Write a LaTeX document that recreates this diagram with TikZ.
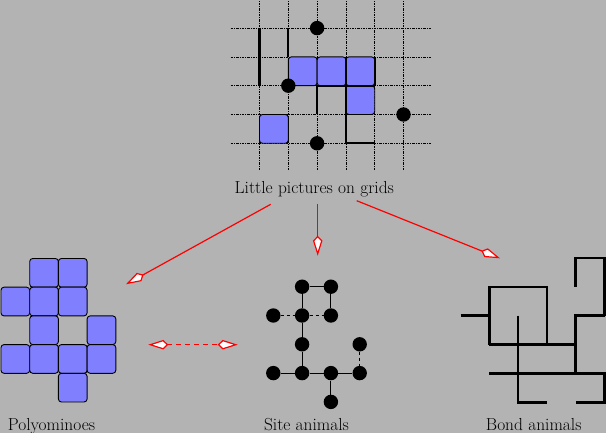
\documentclass[tikz,border=0pt]{standalone}
\usetikzlibrary{arrows.meta}
\definecolor{bggray}{RGB}{179,179,179}
\definecolor{polyblue}{RGB}{128,128,255}
\tikzset{
  gridline/.style={line width=0.7pt, dash pattern=on 2.5pt off 1.2pt on 0.6pt off 1.2pt},
  cell/.style={draw=black, line width=0.9pt, fill=polyblue, rounded corners=3pt},
  thickedge/.style={line width=2.2pt},
  bondedge/.style={line width=2.6pt, line join=miter},
  dot/.style={circle, fill=black, inner sep=0pt, minimum size=14.4pt},
  siteedge/.style={line width=1pt},
  sitedashed/.style={line width=1pt, dash pattern=on 3pt off 3pt},
  caption/.style={font=\fontsize{17.4}{21}\selectfont, anchor=base, inner sep=0pt},
  redarrow/.style={red, line width=1.2pt, -{Kite[length=20pt,width=9.5pt,inset=5pt,fill=white]}},
}
\begin{document}
\begin{tikzpicture}[x=1pt,y=-1pt]
\fill[bggray] (0,0) rectangle (606,433);
\useasboundingbox (0,0) rectangle (606,433);

% ---------- top grid ----------
\begin{scope}[shift={(259.5pt,-143.3pt)}, x=28.8pt, y=28.8pt]
  \foreach \c in {0,...,5} \draw[gridline] (\c,-0.93) -- (\c,4.97);
  \foreach \r in {0,...,4} \draw[gridline] (-1,\r) -- (6,\r);
  \foreach \p/\q in {1/2,2/2,3/2,3/1,0/0}
    \draw[cell] (\p,\q) rectangle ++(1,1);
  \draw[thickedge] (0,4) -- (0,2);
  \draw[thickedge] (1,4) -- (1,3);
  \draw[thickedge] (3,3) -- (3,0) -- (4,0);
  \draw[thickedge] (4,3) -- (4,2);
  \draw[thickedge] (2,1) -- (2,2) -- (4,2);
  \node[dot] (g1) at (2,4) {};
  \node[dot] (g2) at (1,2) {};
  \node[dot] (g3) at (5,1) {};
  \node[dot] (g4) at (2,0) {};
\end{scope}

\node[caption] (title) at (314.3,193.3) {Little pictures on grids};

% ---------- polyominoes ----------
\begin{scope}[shift={(1pt,-402pt)}, x=28.7pt, y=28.7pt]
  \foreach \p/\q in {1/4,2/4,0/3,1/3,2/3,1/2,3/2,0/1,1/1,2/1,3/1,2/0}
    \draw[cell] (\p,\q) rectangle ++(1,1);
\end{scope}

% ---------- site animals ----------
\begin{scope}[shift={(273.3pt,-401.9pt)}, x=28.8pt, y=28.8pt]
  \foreach \p/\q in {1/4,2/4,0/3,1/3,2/3,1/2,3/2,0/1,1/1,2/1,3/1,2/0}
    \node[dot] (s\p\q) at (\p,\q) {};
  \draw[siteedge] (s14) -- (s24);
  \draw[siteedge] (s14) -- (s13);
  \draw[siteedge] (s24) -- (s23);
  \draw[siteedge] (s13) -- (s12);
  \draw[siteedge] (s12) -- (s11);
  \draw[siteedge] (s01) -- (s11);
  \draw[siteedge] (s11) -- (s21);
  \draw[siteedge] (s21) -- (s31);
  \draw[siteedge] (s21) -- (s20);
  \draw[sitedashed] (s03) -- (s13);
  \draw[sitedashed] (s13) -- (s23);
  \draw[sitedashed] (s32) -- (s31);
\end{scope}

% ---------- bond animals ----------
\begin{scope}[shift={(460.5pt,-402.3pt)}, x=28.8pt, y=28.85pt]
  \draw[bondedge] (4,4) -- (4,5) -- (5,5) -- (5,3);
  \draw[bondedge] (1,2) -- (1,4) -- (3,4) -- (3,2);
  \draw[bondedge] (0,3) -- (1,3);
  \draw[bondedge] (2,3) -- (2,0) -- (3,0);
  \draw[bondedge] (1,2) -- (4,2);
  \draw[bondedge] (5,3) -- (4,3) -- (4,1);
  \draw[bondedge] (1,1) -- (5,1) -- (5,0) -- (4,0);
\end{scope}

% ---------- captions ----------
\node[caption] (poly) at (51.5,430.7) {Polyominoes};
\node[caption] (site) at (306.5,430.7) {Site animals};
\node[caption] (bond) at (533.7,430.7) {Bond animals};

% ---------- arrows ----------
\coordinate (aL) at (270.7,204.3);
\coordinate (aM) at (317.7,204);
\coordinate (aR) at (356.7,200.7);
\coordinate (tL) at (126,284.3);
\coordinate (tM) at (317.7,255.7);
\coordinate (tR) at (500,258.3);
\draw[redarrow] (aL) -- (tL);
\draw[redarrow] (aM) -- (tM);
\draw[redarrow] (aR) -- (tR);
\coordinate (dA) at (148.3,344.7);
\coordinate (dB) at (237.7,344.7);
\draw[redarrow, {Kite[length=20pt,width=9.5pt,inset=5pt,fill=white]}-{Kite[length=20pt,width=9.5pt,inset=5pt,fill=white]}, dash pattern=on 5pt off 4pt] (dA) -- (dB);
\end{tikzpicture}
\end{document}
